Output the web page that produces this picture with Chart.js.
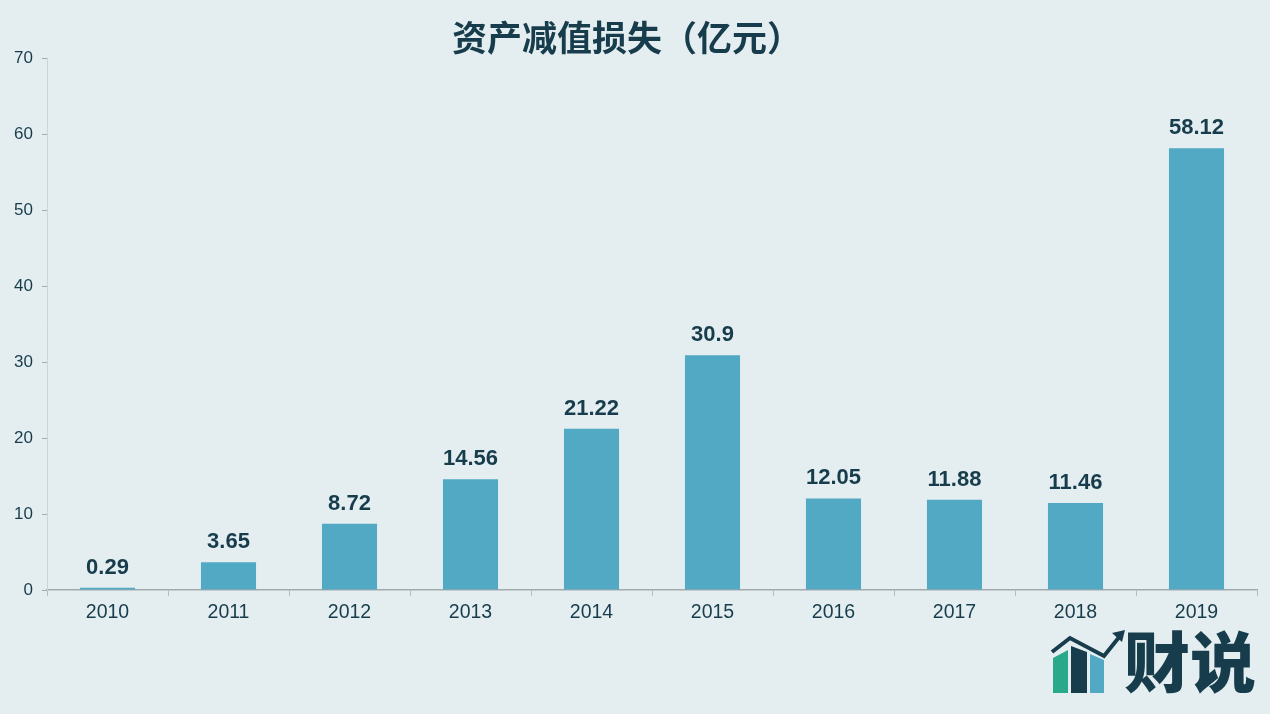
<!DOCTYPE html>
<html>
<head>
<meta charset="utf-8">
<script src="https://cdn.jsdelivr.net/npm/chart.js@4/dist/chart.umd.min.js"></script>
<style>
  html, body { margin: 0; padding: 0; background: #e4eef0; }
  #wrap { width: 1270px; height: 714px; position: relative; }
</style>
</head>
<body>
<div id="wrap"><canvas id="chart" width="1270" height="714"></canvas></div>
<script>
// ── Data ──
const YEARS = ['2010', '2011', '2012', '2013', '2014', '2015', '2016', '2017', '2018', '2019'];
const LOSSES = [0.29, 3.65, 8.72, 14.56, 21.22, 30.9, 12.05, 11.88, 11.46, 58.12];
const TITLE = '资产减值损失（亿元）';

const DARK = '#173c4c';
const BAR = '#52a9c3';

// title + bar value labels + logo
const decorPlugin = {
  id: 'decor',
  afterDatasetsDraw(chart) {
    const { ctx } = chart;
    ctx.save();
    // title
    ctx.fillStyle = DARK;
    ctx.font = 'bold 35px "Noto Sans CJK SC", sans-serif';
    ctx.textAlign = 'center';
    ctx.textBaseline = 'middle';
    ctx.fillText(TITLE, 627, 38);

    // value labels
    ctx.font = 'bold 22px "Liberation Sans", Arial, sans-serif';
    ctx.textBaseline = 'bottom';
    chart.getDatasetMeta(0).data.forEach((bar, i) => {
      ctx.fillText(String(LOSSES[i]), bar.x, bar.y - 9);
    });

    // logo
    ctx.fillStyle = '#2aa88a';
    ctx.beginPath();
    ctx.moveTo(1053, 658); ctx.lineTo(1068, 650); ctx.lineTo(1068, 693); ctx.lineTo(1053, 693);
    ctx.fill();
    ctx.fillStyle = DARK;
    ctx.beginPath();
    ctx.moveTo(1071, 646); ctx.lineTo(1087, 652); ctx.lineTo(1087, 693); ctx.lineTo(1071, 693);
    ctx.fill();
    ctx.fillStyle = BAR;
    ctx.beginPath();
    ctx.moveTo(1090, 654); ctx.lineTo(1104, 660); ctx.lineTo(1104, 693); ctx.lineTo(1090, 693);
    ctx.fill();
    ctx.strokeStyle = DARK;
    ctx.lineWidth = 4;
    ctx.beginPath();
    ctx.moveTo(1052, 652); ctx.lineTo(1070, 638); ctx.lineTo(1104, 656); ctx.lineTo(1120, 636);
    ctx.stroke();
    ctx.fillStyle = DARK;
    ctx.beginPath();
    ctx.moveTo(1125, 630); ctx.lineTo(1112, 633); ctx.lineTo(1122, 642);
    ctx.fill();
    ctx.font = '900 66px "Noto Sans CJK SC", sans-serif';
    ctx.textAlign = 'left';
    ctx.textBaseline = 'middle';
    ctx.fillText('财说', 1124, 662);
    ctx.restore();
  },
};

new Chart(document.getElementById('chart'), {
  type: 'bar',
  data: {
    labels: YEARS,
    datasets: [{
      data: LOSSES,
      backgroundColor: BAR,
      borderWidth: 0,
      categoryPercentage: 1,
      barPercentage: 0.455,
    }],
  },
  options: {
    responsive: false,
    animation: false,
    layout: { padding: { top: 58, right: 13, left: 0, bottom: 0 } },
    plugins: {
      legend: { display: false },
      tooltip: { enabled: false },
    },
    scales: {
      x: {
        afterFit: s => { s.height = 124; },
        border: { color: '#a3aaad', width: 1.5 },
        grid: { drawOnChartArea: false, drawTicks: true, tickLength: 6, color: '#b5bcbf' },
        ticks: {
          color: DARK,
          padding: 5,
          font: { family: 'Liberation Sans', size: 19.5 },
        },
      },
      y: {
        min: 0,
        max: 70,
        afterFit: s => { s.width = 47; },
        border: { color: '#cdd4d6', width: 1 },
        grid: { drawOnChartArea: false, drawTicks: true, tickLength: 5, color: '#a3aaad' },
        ticks: {
          stepSize: 10,
          color: DARK,
          padding: 9,
          font: { family: 'Liberation Sans', size: 17 },
        },
      },
    },
  },
  plugins: [decorPlugin],
});
</script>
</body>
</html>
